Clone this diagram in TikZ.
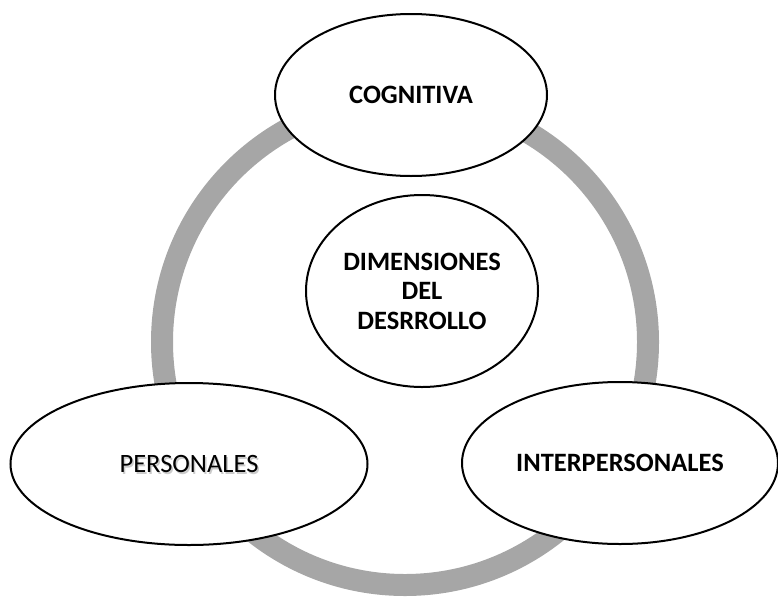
\documentclass[tikz,border=0pt]{standalone}
\usepackage{fontspec}
\setmainfont{Carlito}
\usetikzlibrary{shapes.geometric}
\definecolor{ringgray}{HTML}{A6A6A6}
\tikzset{
  bubble/.style={ellipse, draw=black, line width=2pt, fill=white, inner sep=0pt, align=center},
  lbl/.style={font=\fontsize{26.5}{29.5}\selectfont\bfseries, align=center},
}
\begin{document}
\begin{tikzpicture}[x=1pt,y=-1pt]
\useasboundingbox (0,0) rectangle (778,597);
\draw[ringgray, line width=22pt] (405,342) circle[radius=243];
\node[bubble, minimum width=272pt, minimum height=162pt] (cog) at (411,95) {};
\node[lbl] at (cog.center) {COGNITIVA};
\node[bubble, minimum width=232pt, minimum height=192pt] (dim) at (422,291) {};
\node[lbl] at (dim.center) {DIMENSIONES\\DEL\\DESRROLLO};
\node[bubble, minimum width=357pt, minimum height=162pt] (per) at (189,464) {};
\node[font=\fontsize{26.5}{29.5}\selectfont, text=black!25, opacity=0.8] at ([shift={(1.5,1.5)}]per.center) {PERSONALES};
\node[font=\fontsize{26.5}{29.5}\selectfont] at (per.center) {PERSONALES};
\node[bubble, minimum width=316pt, minimum height=162pt] (inter) at (620,463) {};
\node[lbl] at (inter.center) {INTERPERSONALES};
\end{tikzpicture}
\end{document}
